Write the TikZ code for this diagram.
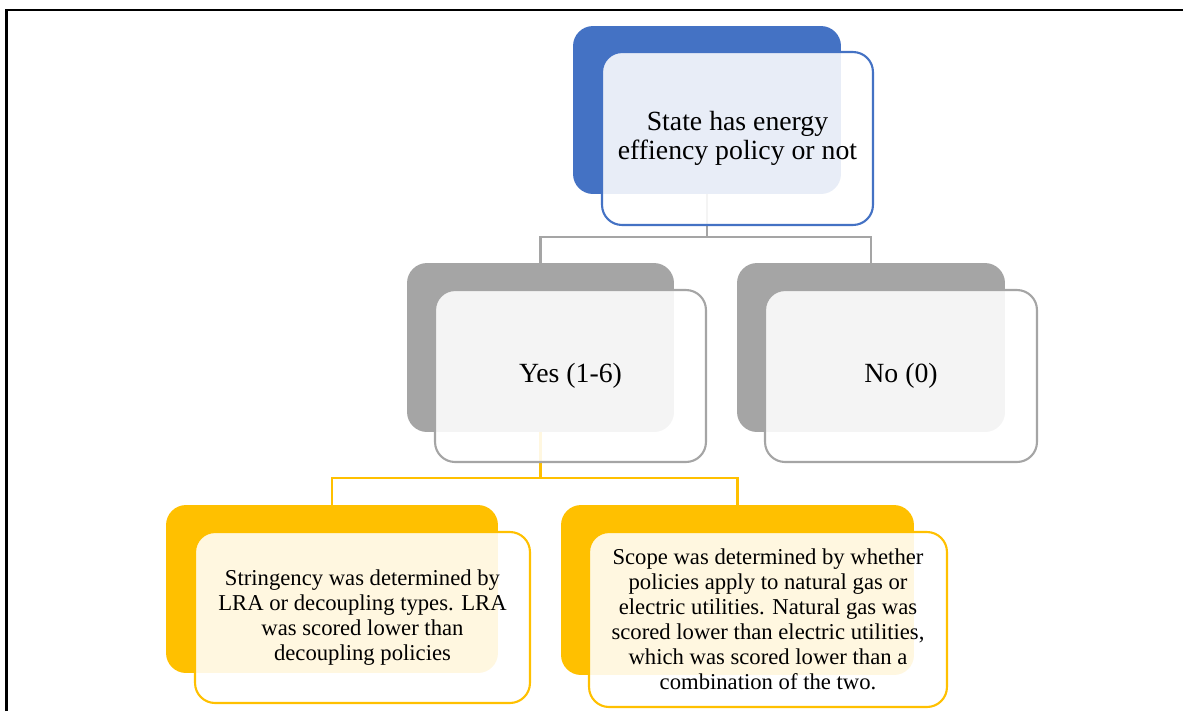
\documentclass[tikz,border=0pt]{standalone}
\usepackage{fontspec}
\setmainfont{Liberation Serif}
\definecolor{blueacc}{HTML}{4472C4}
\definecolor{grayacc}{HTML}{A5A5A5}
\definecolor{goldacc}{HTML}{FFC000}
\begin{document}
\begin{tikzpicture}[x=0.02cm,y=-0.02cm,
    back/.style={rounded corners=0.4cm, inner sep=0pt, fill=#1},
    front/.style={rounded corners=0.4cm, draw=#1, line width=1.2pt,
      fill=white, fill opacity=0.88, text opacity=1, align=center, inner sep=0pt},
    link/.style={draw=#1, line width=1.2pt},
    big/.style={font=\fontsize{15.8}{16.6}\selectfont},
    small/.style={font=\fontsize{12.9}{14.2}\selectfont}]
  \useasboundingbox (0,0) rectangle (1183,711);
  \draw[line width=1.7pt] (6.5,711) -- (6.5,10) -- (1183,10);

  % back tiles
  \node[back=blueacc, minimum width=5.36cm, minimum height=3.36cm] (sb) at (707,110) {};
  \node[back=grayacc, minimum width=5.34cm, minimum height=3.38cm] (yb) at (540.5,347.5) {};
  \node[back=grayacc, minimum width=5.36cm, minimum height=3.38cm] (nb) at (871,347.5) {};
  \node[back=goldacc, minimum width=6.64cm, minimum height=3.36cm] (lb) at (332,589) {};
  \node[back=goldacc, minimum width=7.06cm, minimum height=3.40cm] (rb) at (737.5,590) {};

  % connectors
  \draw[link=grayacc] (sb.south) -- ++(0,43) -| (yb.north);
  \draw[link=grayacc] (sb.south) -- ++(0,43) -| (nb.north);
  \draw[link=goldacc] (yb.south) -- ++(0,46) -| (lb.north);
  \draw[link=goldacc] (yb.south) -- ++(0,46) -| (rb.north);

  % front tiles
  \node[front=blueacc, big, minimum width=5.42cm, minimum height=3.46cm] (sf) at (737.5,138.5)
    {State has energy\\effiency policy or not};
  \node[front=grayacc, big, minimum width=5.42cm, minimum height=3.44cm] (yf) at (570.5,376)
    {Yes (1-6)};
  \node[front=grayacc, big, minimum width=5.44cm, minimum height=3.44cm] (nf) at (901,376)
    {No (0)};
  \node[front=goldacc, small, minimum width=6.70cm, minimum height=3.42cm] (lf) at (362.5,617.5)
    {Stringency was determined by\\LRA or decoupling types. LRA\\was scored lower than\\decoupling policies};
  \node[front=goldacc, small, minimum width=7.16cm, minimum height=3.50cm] (rf) at (768,619.5)
    {Scope was determined by whether\\policies apply to natural gas or\\electric utilities. Natural gas was\\scored lower than electric utilities,\\which was scored lower than a\\combination of the two.};
\end{tikzpicture}
\end{document}
